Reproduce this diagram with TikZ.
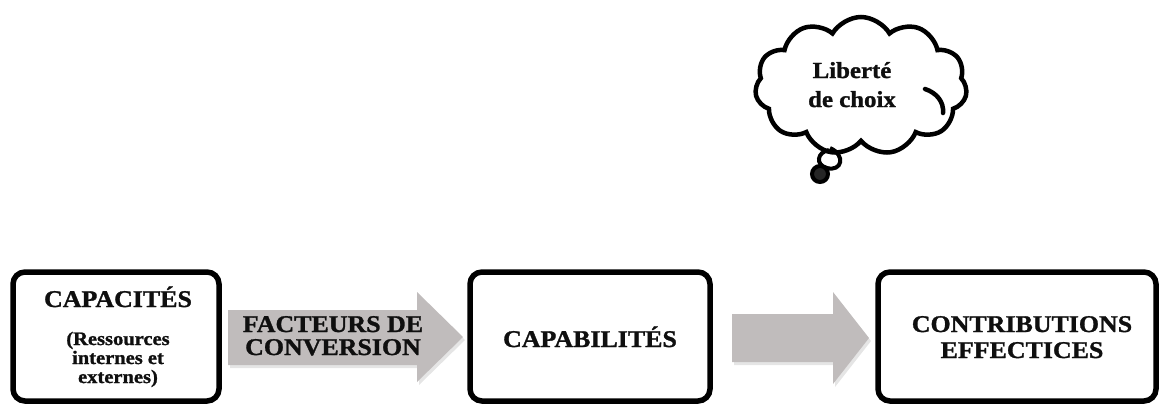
\documentclass[tikz,border=0pt]{standalone}
\usepackage{fontspec}
\setmainfont{Liberation Serif}[FakeStretch=1.08,FakeBold=1.2]
\usetikzlibrary{shapes.symbols}
\definecolor{arrowgrey}{RGB}{192,188,188}
\definecolor{inkc}{RGB}{15,15,15}
\begin{document}
\begin{tikzpicture}[x=1pt,y=-1pt,
  box/.style={draw=black, line width=5.5pt, rounded corners=12pt, inner sep=0pt},
  big/.style={font=\bfseries\fontsize{24}{26}\selectfont, text=inkc, inner sep=0pt, anchor=base},
  small/.style={font=\bfseries\fontsize{19}{19}\selectfont, text=inkc, inner sep=0pt, anchor=base},
  cloudtxt/.style={font=\bfseries\fontsize{23}{24}\selectfont, text=inkc, inner sep=0pt, anchor=base},
  blockarrow/.style={fill=arrowgrey},
  blockshadow/.style={fill=black, opacity=0.10}]
\useasboundingbox (0,0) rectangle (1160,405);

% boxes
\node[box, minimum width=206pt, minimum height=129pt] (b1) at (116,336.5) {};
\node[box, minimum width=240pt, minimum height=129pt] (b2) at (590,336.5) {};
\node[box, minimum width=278pt, minimum height=129pt] (b3) at (1017,336.5) {};

% block arrows
\fill[blockshadow] (230,313) -- (419,313) -- (419,295) -- (465,340) -- (419,385) -- (419,368) -- (230,368) -- cycle;
\fill[blockarrow] (228,310) -- (417,310) -- (417,292) -- (463,337) -- (417,382) -- (417,365) -- (228,365) -- cycle;
\fill[blockshadow] (734,317) -- (835,317) -- (835,295) -- (871,341) -- (835,387) -- (835,365) -- (734,365) -- cycle;
\fill[blockarrow] (732,314) -- (833,314) -- (833,292) -- (869,338) -- (833,384) -- (833,362) -- (732,362) -- cycle;

% texts
\node[big] (t1) at (118,307) {CAPACITÉS};
\node[small] (t1a) at (118,345) {(Ressources};
\node[small] (t1b) at (118,364) {internes et};
\node[small] (t1c) at (118,383) {externes)};
\node[big] (f1) at (333,332) {FACTEURS DE};
\node[big] (f2) at (333,355) {CONVERSION};
\node[big] (t2) at (590,347) {CAPABILITÉS};
\node[big] (t3a) at (1022,332) {CONTRIBUTIONS};
\node[big] (t3b) at (1022,358) {EFFECTICES};

% cloud
\node[cloud, draw=black, line width=4.5pt, cloud puffs=11, cloud puff arc=120, aspect=1.55,
      minimum width=212pt, minimum height=138pt, inner sep=0pt] (cl) at (861,86) {};
\draw[line width=4.5pt, line cap=round] (925,89) .. controls (937,93) and (944,102) .. (943,113);
\draw[line width=4pt] (830,148) .. controls (846,155) and (842,172) .. (827,168) .. controls (815,165) and (817,152) .. (829,150);
\draw[line width=4pt, fill=black!85] (820,174) circle (8);
\node[cloudtxt] (c1) at (852,78) {Liberté};
\node[cloudtxt] (c2) at (852,107) {de choix};
\end{tikzpicture}
\end{document}
